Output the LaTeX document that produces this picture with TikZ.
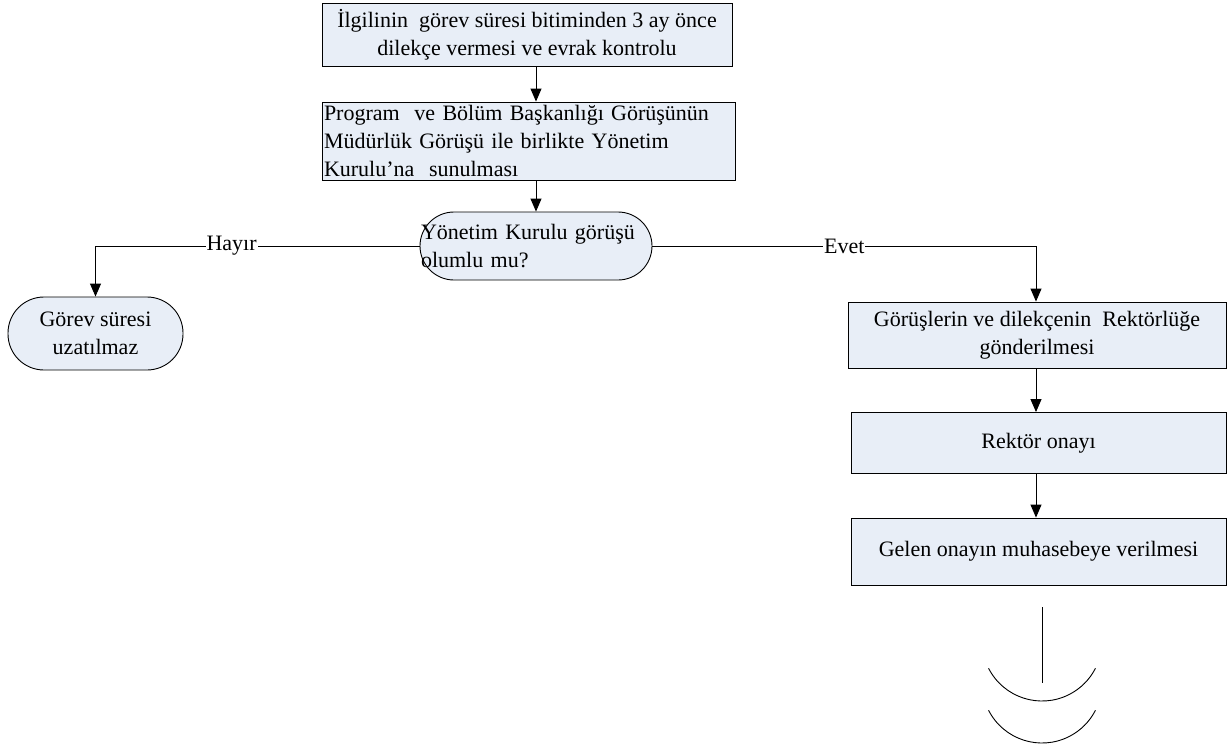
\documentclass[tikz,border=0pt]{standalone}
\usepackage{fontspec}
\setmainfont{Liberation Serif}
\usetikzlibrary{arrows.meta}
\definecolor{boxfill}{RGB}{232,238,247}
\tikzset{
  base/.style={draw=black, line width=0.9pt, fill=boxfill, font=\fontsize{22}{28}\selectfont, inner sep=1pt},
  procbox/.style={base, rectangle, align=center},
  leftbox/.style={base, rectangle, align=left},
  termbox/.style={base, rectangle, align=center},
  arr/.style={draw=black, line width=0.9pt, -{Triangle[width=11pt,length=13pt]}},
  plainline/.style={draw=black, line width=0.9pt},
  lbl/.style={fill=white, inner sep=1pt, font=\fontsize{22}{26}\selectfont}
}
\begin{document}
\begin{tikzpicture}[x=1pt,y=-1pt]
\useasboundingbox (0,0) rectangle (1232,747);
\node[procbox, minimum width=410pt, minimum height=63pt] (b1) at (527,34.5) {İlgilinin\ \ görev süresi bitiminden 3 ay önce\\dilekçe vermesi ve evrak kontrolu};
\node[leftbox, minimum width=413pt, minimum height=78pt, text width=409pt] (b2) at (528.5,141) {Program\ \ ve Bölüm Başkanlığı Görüşünün\\Müdürlük Görüşü ile birlikte Yönetim\\Kurulu’na\ \ sunulması};
\node[leftbox, rounded corners=34pt, minimum width=232pt, minimum height=68pt, text width=230pt, inner xsep=0.5pt] (dec) at (536,246) {Yönetim Kurulu görüşü\\olumlu mu?};
\node[termbox, rounded corners=36pt, minimum width=175pt, minimum height=73pt] (term) at (95.5,333.5) {Görev süresi\\uzatılmaz};
\node[procbox, minimum width=378pt, minimum height=66pt] (b3) at (1037,335) {Görüşlerin ve dilekçenin\ \ Rektörlüğe\\gönderilmesi};
\node[procbox, minimum width=375pt, minimum height=61pt] (b4) at (1038.5,443) {Rektör onayı};
\node[procbox, minimum width=375pt, minimum height=67pt] (b5) at (1038.5,551.5) {Gelen onayın muhasebeye verilmesi};
\draw[arr] (b1.south -| dec.north) -- (b2.north -| dec.north);
\draw[arr] (b2.south -| dec.north) -- (dec.north);
\draw[arr] (dec.west) -| node[lbl, pos=0.29] {Hayır} (term.north);
\coordinate (evx) at (1036,0);
\draw[arr] (dec.east) -| node[lbl, pos=0.25] {Evet} (b3.north -| evx);
\draw[arr] (b3.south -| evx) -- (b4.north -| evx);
\draw[arr] (b4.south -| evx) -- (b5.north -| evx);
\coordinate (l1) at (1042,607);
\coordinate (l2) at (1042,683);
\draw[plainline] (l1) -- (l2);
\draw[plainline] (1042,641) ++(153:60) arc[start angle=153, end angle=27, radius=60];
\draw[plainline] (1042,683) ++(153:60) arc[start angle=153, end angle=27, radius=60];
\end{tikzpicture}
\end{document}
